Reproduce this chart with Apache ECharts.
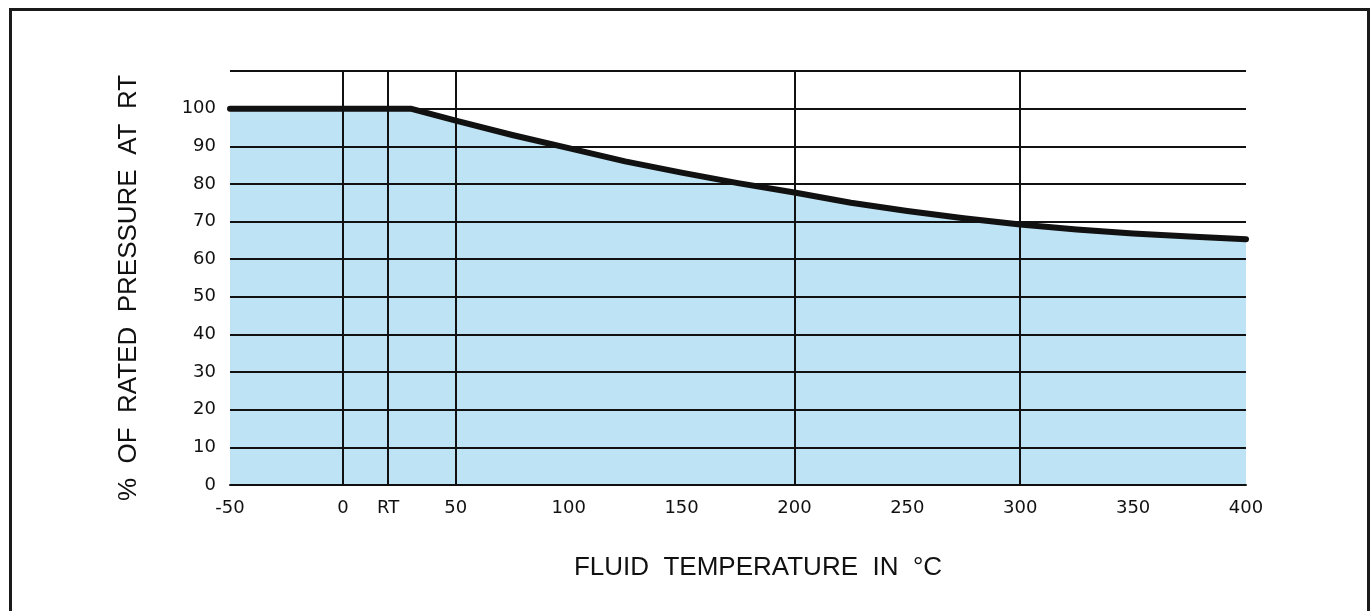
<!DOCTYPE html>
<html>
<head>
<meta charset="utf-8">
<title>Pressure derating vs fluid temperature</title>
<script src="https://cdn.jsdelivr.net/npm/echarts@6/dist/echarts.min.js"></script>
<style>
  html, body { margin: 0; padding: 0; background: #ffffff; }
  #chart { width: 1372px; height: 611px; }
</style>
</head>
<body>
<div id="chart"></div>
<script>
// Fluid temperature (°C) and allowed pressure as % of rated pressure at room temperature
const temps = [-50, 30, 50, 75, 100, 125, 150, 175, 200, 225, 250, 275, 300, 325, 350, 375, 400];
const pressurePct = [100, 100, 96.8, 93, 89.5, 86, 83, 80.2, 77.7, 75, 72.8, 70.9, 69.2, 67.9, 66.8, 66, 65.3];

// Temperature tick positions; 20 °C is marked as room temperature
const xTicks = [-50, 0, 20, 50, 100, 150, 200, 250, 300, 350, 400];
const roomTemp = 20;
// Full-height vertical rules
const verticalRules = [0, 20, 50, 200, 300];

const xName = 'FLUID  TEMPERATURE  IN  °C';
const yName = '%  OF  RATED  PRESSURE  AT  RT';

const ink = '#111111';
const fill = '#bee3f5';
const nameFont = 'Liberation Sans';
const tickFont = 'DejaVu Sans';

const chart = echarts.init(document.getElementById('chart'), null, { renderer: 'canvas' });

chart.setOption({
  animation: false,
  backgroundColor: '#ffffff',
  grid: { left: 230, right: 126, top: 71, bottom: 126 },
  xAxis: {
    type: 'value',
    min: -50,
    max: 400,
    interval: 50,
    z: 3,
    name: xName,
    nameLocation: 'middle',
    nameGap: 70,
    nameTextStyle: { color: ink, fontSize: 26, fontFamily: nameFont, padding: [0, 0, 0, 40] },
    axisLine: { show: true, onZero: false, lineStyle: { color: ink, width: 2 } },
    axisTick: { show: false },
    splitLine: { show: false },
    axisLabel: {
      customValues: xTicks,
      margin: 14,
      color: ink,
      fontSize: 18,
      fontFamily: tickFont,
      formatter: v => (v === roomTemp ? 'RT' : String(v))
    }
  },
  yAxis: {
    type: 'value',
    min: 0,
    max: 110,
    interval: 10,
    z: 3,
    name: yName,
    nameLocation: 'middle',
    nameGap: 88,
    nameRotate: 90,
    nameTextStyle: { color: ink, fontSize: 26, fontFamily: nameFont, padding: [0, 20, 0, 0] },
    axisLine: { show: true, lineStyle: { color: ink, width: 2 } },
    axisTick: { show: false },
    splitLine: { show: true, lineStyle: { color: ink, width: 2 } },
    axisLabel: {
      margin: 14,
      color: ink,
      fontSize: 18,
      fontFamily: tickFont,
      formatter: v => (v > 100 ? '' : String(v))
    }
  },
  series: [
    {
      type: 'line',
      data: temps.map((t, i) => [t, pressurePct[i]]),
      symbol: 'none',
      smooth: false,
      z: 2,
      lineStyle: { color: ink, width: 6, cap: 'round', join: 'round' },
      areaStyle: { color: fill, opacity: 1, origin: 'start' },
      markLine: {
        silent: true,
        symbol: 'none',
        label: { show: false },
        lineStyle: { color: ink, width: 2, type: 'solid' },
        data: verticalRules.map(x => ({ xAxis: x }))
      }
    }
  ],
  graphic: [
    {
      type: 'rect',
      left: 8,
      top: 7,
      shape: { width: 1358, height: 640 },
      style: { fill: 'none', stroke: '#1a1a1a', lineWidth: 3 },
      silent: true
    }
  ]
});
</script>
</body>
</html>
